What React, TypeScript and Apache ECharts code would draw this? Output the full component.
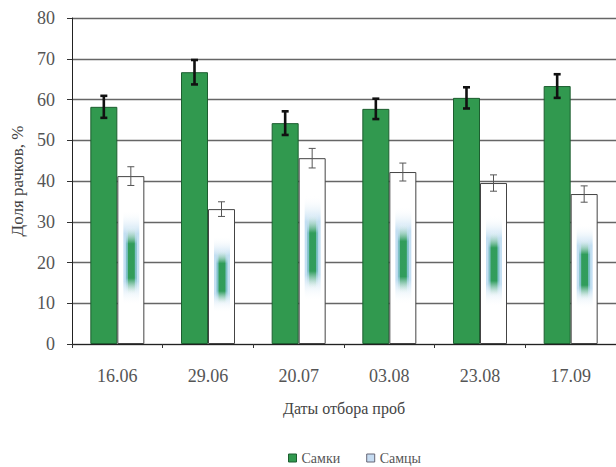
import React, { useEffect, useRef } from "react";
import * as echarts from "echarts";

const categories = ["16.06", "29.06", "20.07", "03.08", "23.08", "17.09"];
const femaleValues = [58.2, 66.7, 54.2, 57.7, 60.4, 63.3];
const femaleErr = [2.7, 3.0, 2.9, 2.5, 2.6, 2.9];
const maleValues = [41.2, 33.1, 45.6, 42.2, 39.5, 36.8];
const maleErr = [2.3, 1.8, 2.4, 2.2, 2.0, 2.0];
const yTicks = { min: 0, max: 80, interval: 10 };

const FONT = "serif";
const BAR_W = 27;

export default function App() {
  const ref = useRef<HTMLDivElement>(null);
  useEffect(() => {
    if (!ref.current) return;
    const chart = echarts.init(ref.current, null, { renderer: "svg" });

    const errSeries = (vals: number[], errs: number[], offset: number, color: string, lw: number, cap: number, name: string) => ({
      type: "custom",
      name,
      z: 10,
      silent: true,
      data: vals.map((v, i) => [i, v - errs[i], v + errs[i]]),
      renderItem: (params: any, api: any) => {
        const i = api.value(0);
        const cx = api.coord([i, 0])[0] + offset;
        const yl = api.coord([i, api.value(1)])[1];
        const yh = api.coord([i, api.value(2)])[1];
        const st = { stroke: color, lineWidth: lw };
        return {
          type: "group",
          children: [
            { type: "line", shape: { x1: cx, y1: yl, x2: cx, y2: yh }, style: st },
            { type: "line", shape: { x1: cx - cap / 2, y1: yl, x2: cx + cap / 2, y2: yl }, style: st },
            { type: "line", shape: { x1: cx - cap / 2, y1: yh, x2: cx + cap / 2, y2: yh }, style: st },
          ],
        };
      },
    });

    const vGrad = (c: string) =>
      new echarts.graphic.LinearGradient(0, 0, 0, 1, [
        { offset: 0, color: "rgba(255,255,255,0)" },
        { offset: 0.25, color: c },
        { offset: 0.75, color: c },
        { offset: 1, color: "rgba(255,255,255,0)" },
      ]);

    const stripeSeries = {
      type: "custom",
      name: "stripe",
      z: 5,
      silent: true,
      data: maleValues.map((v, i) => [i, v]),
      renderItem: (params: any, api: any) => {
        const i = api.value(0);
        const v = api.value(1);
        const cx = api.coord([i, 0])[0] + BAR_W / 2 + 0.5;
        const bTop = api.coord([i, v * 0.8])[1];
        const bBot = api.coord([i, v * 0.23])[1];
        const gTop = api.coord([i, v * 0.7])[1];
        const gBot = api.coord([i, v * 0.29])[1];
        return {
          type: "group",
          children: [
            {
              type: "rect",
              shape: { x: cx - 8, y: bTop, width: 16, height: bBot - bTop },
              style: { fill: vGrad("rgba(175,212,238,0.75)") },
            },
            {
              type: "rect",
              shape: { x: cx - 5.5, y: gTop, width: 11, height: gBot - gTop },
              style: { fill: vGrad("rgba(110,185,190,0.8)") },
            },
            {
              type: "rect",
              shape: { x: cx - 3.5, y: gTop, width: 7, height: gBot - gTop },
              style: { fill: vGrad("rgba(45,155,85,0.95)") },
            },
          ],
        };
      },
    };

    chart.setOption({
      animation: false,
      backgroundColor: "#ffffff",
      textStyle: { fontFamily: FONT },
      grid: { left: 72, top: 18, width: 549, height: 326 },
      legend: {
        left: 283,
        top: 446,
        icon: "rect",
        itemWidth: 8,
        itemHeight: 8,
        itemGap: 26,
        textStyle: { fontFamily: FONT, fontSize: 14, color: "#555" },
        data: [
          { name: "Самки", itemStyle: { color: "#31994f", borderColor: "#1d5e30", borderWidth: 1 } },
          { name: "Самцы", itemStyle: { color: "#c6dcf2", borderColor: "#667", borderWidth: 1 } },
        ],
      },
      xAxis: {
        type: "category",
        data: categories,
        boundaryGap: true,
        axisLine: { lineStyle: { color: "#222", width: 1 } },
        axisTick: { show: true, length: 4, lineStyle: { color: "#333" } },
        axisLabel: { fontFamily: FONT, fontSize: 18, color: "#555", margin: 23 },
        name: "Даты отбора проб",
        nameLocation: "middle",
        nameGap: 56,
        nameTextStyle: { fontFamily: FONT, fontSize: 16, color: "#444" },
      },
      yAxis: {
        type: "value",
        min: yTicks.min,
        max: yTicks.max,
        interval: yTicks.interval,
        axisLine: { show: true, lineStyle: { color: "#222", width: 1 } },
        axisTick: { show: true, length: 5, lineStyle: { color: "#333" } },
        axisLabel: { fontFamily: FONT, fontSize: 18, color: "#555", margin: 17 },
        splitLine: { show: true, lineStyle: { color: "#666", width: 1.3 } },
        name: "Доля рачков, %",
        nameLocation: "middle",
        nameGap: 46,
        nameRotate: 90,
        nameTextStyle: { fontFamily: FONT, fontSize: 17, color: "#444" },
      },
      series: [
        {
          type: "bar",
          name: "Самки",
          data: femaleValues,
          barWidth: BAR_W,
          barGap: "0%",
          itemStyle: { color: "#31994f", borderColor: "#1d5e30", borderWidth: 1 },
        },
        {
          type: "bar",
          name: "Самцы",
          data: maleValues,
          barWidth: BAR_W,
          barGap: "0%",
          itemStyle: { color: "#ffffff", borderColor: "#444", borderWidth: 1 },
        },
        stripeSeries,
        errSeries(femaleValues, femaleErr, -BAR_W / 2, "#111", 2.6, 7, "errF"),
        errSeries(maleValues, maleErr, BAR_W / 2, "#555", 1, 7, "errM"),
      ],
    });
    return () => chart.dispose();
  }, []);
  return <div ref={ref} style={{ position: "fixed", left: 0, top: 0, width: 616, height: 467 }} />;
}
